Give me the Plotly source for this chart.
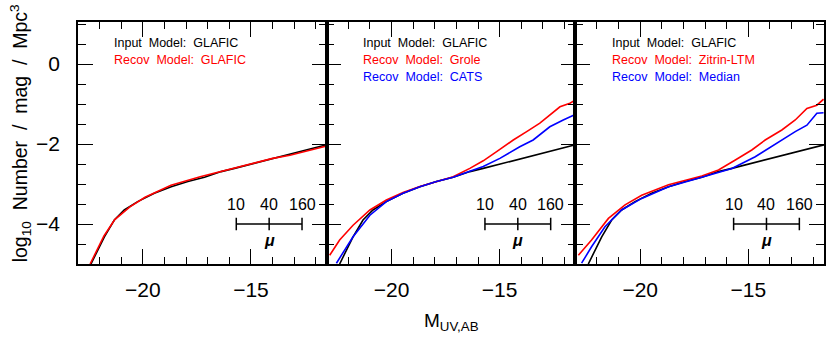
import plotly.graph_objects as go
from plotly.subplots import make_subplots

# input model (GLAFIC) luminosity function, same in all panels
input_mag = [-22.40, -22.09, -21.78, -21.32, -20.86, -20.24, -19.47, -18.69,
             -17.92, -17.15, -16.38, -15.76, -11.50]
input_lf = [-5.00, -4.65, -4.32, -3.90, -3.65, -3.44, -3.23, -3.07,
            -2.94, -2.83, -2.69, -2.61, -2.02]

# panel 1: recovered with GLAFIC
glafic_mag = [-22.44, -22.10, -21.80, -21.30, -20.60, -19.90, -18.70, -17.35,
              -16.00, -15.00, -14.00, -13.20, -12.60, -12.00, -11.50]
glafic_lf = [-5.00, -4.62, -4.30, -3.89, -3.57, -3.33, -3.03, -2.82,
             -2.64, -2.50, -2.36, -2.28, -2.20, -2.13, -2.05]

# panel 2: Grole and CATS
grole_mag = [-22.86, -22.40, -21.78, -21.00, -20.24, -19.47, -18.69, -17.92,
             -17.15, -16.38, -15.76, -15.14, -14.37, -13.75, -13.14, -12.21,
             -11.75, -11.37]
grole_lf = [-4.78, -4.40, -4.03, -3.65, -3.40, -3.21, -3.06, -2.94,
            -2.82, -2.61, -2.42, -2.19, -1.90, -1.69, -1.48, -1.07,
            -0.98, -0.86]
cats_mag = [-22.55, -22.17, -21.78, -21.00, -20.24, -19.47, -18.69, -17.92,
            -17.15, -16.38, -15.76, -14.99, -14.07, -13.45, -12.68, -12.06,
            -11.37]
cats_lf = [-4.98, -4.65, -4.32, -3.78, -3.44, -3.23, -3.07, -2.94,
           -2.83, -2.68, -2.56, -2.36, -2.07, -1.90, -1.57, -1.40,
           -1.23]

# panel 3: Zitrin-LTM and Median
zitrin_mag = [-22.86, -22.25, -21.47, -20.70, -19.93, -18.69, -17.15, -16.38,
              -15.60, -14.84, -14.22, -13.45, -12.83, -12.29, -11.83, -11.52]
zitrin_lf = [-4.78, -4.40, -3.86, -3.52, -3.28, -3.02, -2.80, -2.65,
             -2.40, -2.15, -1.90, -1.65, -1.40, -1.11, -1.03, -0.88]
median_mag = [-22.71, -22.25, -21.63, -20.86, -19.93, -18.69, -17.15, -15.76,
              -14.68, -13.45, -12.83, -12.29, -11.83, -11.52]
median_lf = [-4.98, -4.57, -4.07, -3.65, -3.36, -3.07, -2.83, -2.61,
             -2.32, -1.90, -1.69, -1.53, -1.23, -1.22]

# magnification scale bar
mu_labels = ['10', '40', '160']
mu_mag = [-15.68, -14.16, -12.64]
mu_level = -4.0

panels = [
    [('Input Model: GLAFIC', 'black', input_mag, input_lf),
     ('Recov Model: GLAFIC', 'red', glafic_mag, glafic_lf)],
    [('Input Model: GLAFIC', 'black', input_mag, input_lf),
     ('Recov Model: Grole', 'red', grole_mag, grole_lf),
     ('Recov Model: CATS', 'blue', cats_mag, cats_lf)],
    [('Input Model: GLAFIC', 'black', input_mag, input_lf),
     ('Recov Model: Zitrin-LTM', 'red', zitrin_mag, zitrin_lf),
     ('Recov Model: Median', 'blue', median_mag, median_lf)],
]

FONT = 'Arial, Liberation Sans, sans-serif'
SP = '\u00a0'

fig = make_subplots(rows=1, cols=3, shared_yaxes=True, horizontal_spacing=0)

for i, panel in enumerate(panels):
    col = i + 1
    xr = 'x' if col == 1 else 'x%d' % col
    yr = 'y' if col == 1 else 'y%d' % col
    for j, (name, color, xs, ys) in enumerate(panel):
        fig.add_trace(go.Scatter(x=xs, y=ys, mode='lines', name=name,
                                 line=dict(color=color, width=1.6),
                                 showlegend=False), row=1, col=col)
        fig.add_annotation(text=name.replace(' ', SP * 2), xref=xr + ' domain',
                           yref=yr + ' domain', x=0.138, y=0.913 - 0.07 * j,
                           xanchor='left', yanchor='middle', showarrow=False,
                           font=dict(family=FONT, size=12.5, color=color))
    # mu scale bar
    fig.add_trace(go.Scatter(x=mu_mag, y=[mu_level] * 3, mode='lines+markers',
                             line=dict(color='black', width=1.5),
                             marker=dict(symbol='line-ns', size=9,
                                         line=dict(color='black', width=1.5)),
                             showlegend=False), row=1, col=col)
    for lab, m in zip(mu_labels, mu_mag):
        fig.add_annotation(text=lab, x=m, y=mu_level + 0.48, xref=xr, yref=yr,
                           showarrow=False, font=dict(family=FONT, size=16, color='black'))
    fig.add_annotation(text='<b><i>μ</i></b>', x=mu_mag[1], y=mu_level - 0.42,
                       xref=xr, yref=yr, showarrow=False,
                       font=dict(family=FONT, size=16, color='black'))

axis_style = dict(showline=True, linecolor='black', linewidth=1.6, mirror='allticks',
                  ticks='inside', ticklen=15, tickwidth=1.4, tickcolor='black',
                  showgrid=False, zeroline=False,
                  tickfont=dict(family=FONT, size=21, color='black'))

fig.update_xaxes(range=[-23, -11.5], tick0=-20, dtick=5, ticklabelstandoff=6,
                 minor=dict(ticks='inside', dtick=1, ticklen=7, tickwidth=1.2,
                            tickcolor='black'),
                 **axis_style)
fig.update_yaxes(range=[-5, 1.05], tick0=0, dtick=2, ticklabelstandoff=12,
                 minor=dict(ticks='inside', dtick=0.5, ticklen=8, tickwidth=1.2,
                            tickcolor='black'),
                 **axis_style)
fig.update_yaxes(showticklabels=False, row=1, col=2)
fig.update_yaxes(showticklabels=False, row=1, col=3)

ytitle = SP.join(['log<sub>10</sub>', '', 'Number', '', '/', '', 'mag', '', '/', '',
                  'Mpc<sup>3</sup>'])
fig.add_annotation(text=ytitle, xref='paper', yref='paper', x=0, y=0.54,
                   xshift=-58, xanchor='center', yanchor='middle',
                   textangle=-90, showarrow=False,
                   font=dict(family=FONT, size=19.5, color='black'))
fig.add_annotation(text='M<sub>UV,AB</sub>', xref='paper', yref='paper',
                   x=0.5, y=0, yshift=-58, xanchor='center', yanchor='middle',
                   showarrow=False,
                   font=dict(family=FONT, size=19, color='black'))

fig.update_layout(width=830, height=352,
                  margin=dict(l=78, r=4, t=22, b=88),
                  paper_bgcolor='white', plot_bgcolor='white',
                  showlegend=False)

# drop the default 8px body margin so the figure fills the window exactly
fig.write_html('out.html', config={'displayModeBar': False},
               post_script="document.body.style.margin='0';"
                           "document.body.style.overflow='hidden';")
